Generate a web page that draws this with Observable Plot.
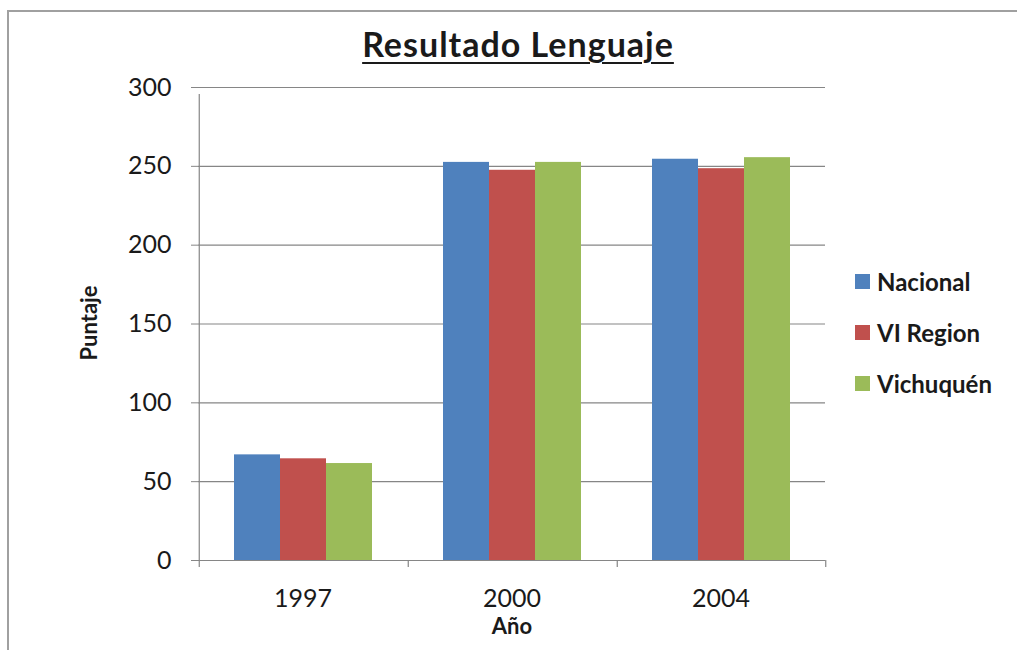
<!DOCTYPE html>
<html><head><meta charset="utf-8">
<script src="https://cdn.jsdelivr.net/npm/d3@7"></script>
<script src="https://cdn.jsdelivr.net/npm/@observablehq/plot@0.6"></script>
<style>
html,body{margin:0;padding:0;background:#fff;overflow:hidden;}
#wrap{position:relative;width:1017px;height:650px;font-family:Lato,"Open Sans",sans-serif;color:#1a1a1a;}
#border{position:absolute;left:7px;top:10px;width:1100px;height:700px;border:2px solid #a0a0a0;box-sizing:border-box;}
#chart{position:absolute;left:0;top:0;}
#title{position:absolute;left:518px;top:44px;transform:translate(-50%,-50%);white-space:nowrap;font-weight:bold;font-size:34px;letter-spacing:1px;text-decoration:underline;text-decoration-thickness:2px;text-underline-offset:5px;line-height:40px;}
#ylab{position:absolute;left:88px;top:323px;transform:translate(-50%,-50%) rotate(-90deg);font-weight:bold;font-size:22px;white-space:nowrap;}
#xlab{position:absolute;left:512px;top:626px;transform:translate(-50%,-50%);font-weight:bold;font-size:22px;line-height:24px;}
#legend{position:absolute;left:855px;top:256px;}
.item{display:flex;align-items:center;height:51px;font-size:24px;font-weight:bold;}
.sw{width:15px;height:15px;margin-right:7px;flex:none;}
</style>
</head><body>
<div id="wrap">
  <div id="border"></div>
  <div id="chart"></div>
  <div id="title">Resultado Lenguaje</div>
  <div id="ylab">Puntaje</div>
  <div id="xlab">Año</div>
  <div id="legend"></div>
</div>
<script>
const years = ["1997", "2000", "2004"];
const series = ["Nacional", "VI Region", "Vichuquén"];
const nacional = [67, 252.5, 254.5];
const viRegion = [64.5, 247.5, 248.5];
const vichuquen = [61.5, 252.5, 255.5];
const yTicks = [0, 50, 100, 150, 200, 250, 300];
const colors = ["#4F81BD", "#C0504D", "#9BBB59"];

const valuesBySeries = [nacional, viRegion, vichuquen];
const rows = [];
years.forEach((yr, i) => series.forEach((s, j) => rows.push({year: yr, series: s, value: valuesBySeries[j][i]})));

const W = 1017, H = 650, ml = 197, mr = 191, mt = 87, mb = 90;
const padOuter = 0.75;
const facetW = (W - ml - mr) / years.length;
const step = facetW / (series.length + 2 * padOuter);
const edge = (padOuter + 0.5) * step;
const gray = "#868686";

const firstBars = years.map(yr => ({year: yr, series: series[0]}));
const lastBar = [{year: years[years.length - 1], series: series[series.length - 1]}];

const plot = Plot.plot({
  width: W, height: H,
  marginLeft: ml, marginRight: mr, marginTop: mt, marginBottom: mb,
  style: {fontFamily: "Lato, 'Open Sans', sans-serif", fontSize: "25px", color: "#1a1a1a", background: "transparent"},
  fx: {domain: years, padding: 0, label: null},
  x: {domain: series, paddingInner: 0, paddingOuter: padOuter, axis: null},
  y: {domain: [0, 300], label: null},
  color: {domain: series, range: colors},
  marks: [
    Plot.ruleY(yTicks.slice(1), {stroke: gray, strokeWidth: 1.2}),
    Plot.barY(rows, {fx: "year", x: "series", y: "value", fill: "series"}),
    Plot.ruleY([0], {stroke: gray, strokeWidth: 1.2}),
    Plot.ruleX([firstBars[0]], {fx: "year", x: "series", y1: 0, y2: 300, dx: -edge, insetBottom: -7, stroke: gray, strokeWidth: 1.2}),
    Plot.ruleX(firstBars, {fx: "year", x: "series", y1: 0, y2: 0, dx: -edge, insetBottom: -7, stroke: gray, strokeWidth: 1.2}),
    Plot.ruleX(lastBar, {fx: "year", x: "series", y1: 0, y2: 0, dx: edge, insetBottom: -7, stroke: gray, strokeWidth: 1.2}),
    Plot.axisY(yTicks, {anchor: "left", tickSize: 7, tickPadding: 20, stroke: gray, fill: "#1a1a1a", label: null}),
    Plot.axisFx({anchor: "bottom", tickSize: 0, tickPadding: 29, label: null, fill: "#1a1a1a"})
  ]
});
document.getElementById("chart").appendChild(plot);

const colorScale = plot.scale("color");
const legend = document.getElementById("legend");
series.forEach(s => {
  const item = document.createElement("div");
  item.className = "item";
  const sw = document.createElement("div");
  sw.className = "sw";
  sw.style.background = colorScale.apply(s);
  const t = document.createElement("span");
  t.textContent = s;
  item.appendChild(sw);
  item.appendChild(t);
  legend.appendChild(item);
});
</script>
</body></html>
